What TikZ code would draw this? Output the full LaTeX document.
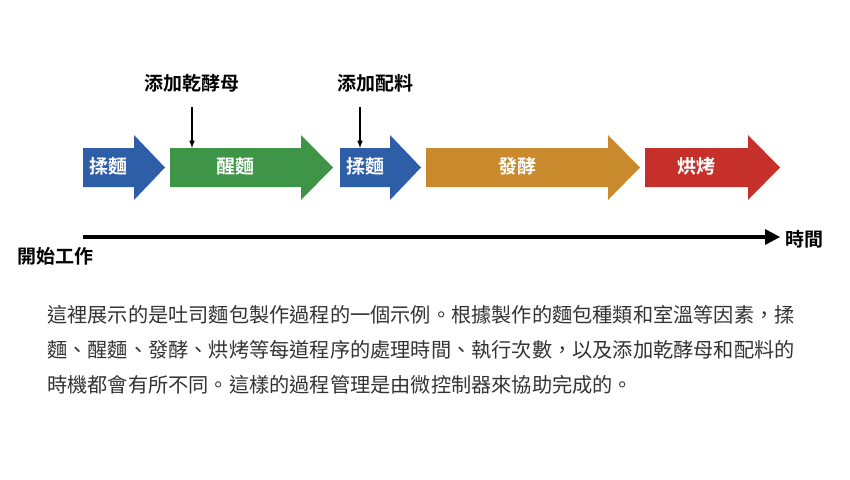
\documentclass[tikz,border=0pt]{standalone}
\usepackage{fontspec}
\newfontfamily\cjk{Noto Sans CJK TC}
\newfontfamily\cjkb{Noto Sans CJK TC Bold}
\definecolor{kneadblue}{HTML}{2E5EA8}
\definecolor{proofgreen}{HTML}{3E9447}
\definecolor{fermorange}{HTML}{C98A2E}
\definecolor{bakered}{HTML}{C6302A}
\tikzset{
  stagelabel/.style={text=white,font=\cjkb\fontsize{19}{19}\selectfont},
  notelabel/.style={font=\cjkb\fontsize{19}{19}\selectfont},
  bodyline/.style={anchor=west,text=black!80,font=\cjk\fontsize{20.2}{20}\selectfont,inner sep=0pt}
}
\begin{document}
\begin{tikzpicture}[x=1pt,y=-1pt]
  \useasboundingbox (0,0) rectangle (850,479);
  %% stage arrows: start, head start, tip, colour, name, text
  \foreach \xa/\xb/\xc/\col/\nm/\txt in {83/134/165/kneadblue/knead/揉麵,
      170/301/333/proofgreen/proof/醒麵,
      340/390/421/kneadblue/kneadtwo/揉麵,
      426/608/640/fermorange/ferment/發酵,
      645/748/780/bakered/bake/烘烤} {
    \fill[\col] (\xa,148) -- (\xb,148) -- (\xb,135) -- (\xc,167.5) -- (\xb,200)
      -- (\xb,187) -- (\xa,187) -- cycle;
    \node[stagelabel] (\nm) at ({(\xa+\xb)/2},166) {\txt};
  }
  %% time line
  \coordinate (tstart) at (83,237);
  \coordinate (tend) at (780,237);
  \draw[line width=4pt] (tstart) -- (765,237);
  \fill (765,229) -- (780,237) -- (765,245) -- cycle;
  \node[notelabel,anchor=north] (begin) at (55,244) {開始工作};
  \node[notelabel,anchor=west] (time) at (782,239) {時間};
  %% notes
  \node[notelabel] (yeast) at (192,83) {添加乾酵母};
  \node[notelabel] (extra) at (375,83) {添加配料};
  \coordinate (yeastend) at (192,148);
  \coordinate (extraend) at (360,148);
  \draw[line width=1.5pt,-latex] (192,107) -- (yeastend);
  \draw[line width=1.5pt,-latex] (360,107) -- (extraend);
  %% description
  \node[bodyline] (lineone) at (47,315) {這裡展示的是吐司麵包製作過程的一個示例。根據製作的麵包種類和室溫等因素，揉};
  \node[bodyline] (linetwo) at (47,350) {麵、醒麵、發酵、烘烤等每道程序的處理時間、執行次數，以及添加乾酵母和配料的};
  \node[bodyline] (linethree) at (47,385) {時機都會有所不同。這樣的過程管理是由微控制器來協助完成的。};
\end{tikzpicture}
\end{document}
